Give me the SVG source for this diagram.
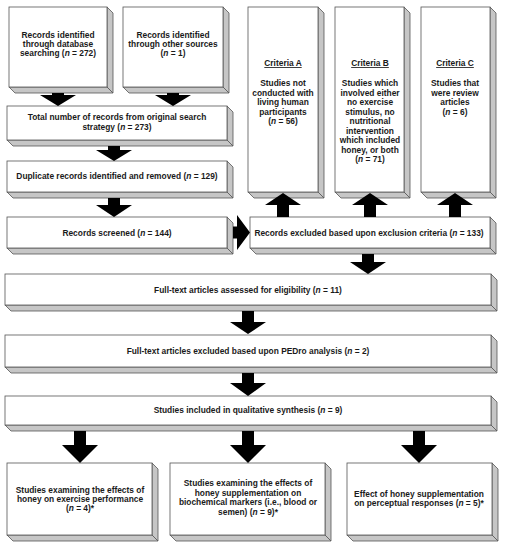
<svg xmlns="http://www.w3.org/2000/svg" width="507" height="550" viewBox="0 0 507 550">
<defs>
<style>
.face{fill:#fff;stroke:#555;stroke-width:0.8}
.bev{fill:#c6c6c6;stroke:#555;stroke-width:0.8;stroke-linejoin:round}
.t{font-family:"Liberation Sans",Arial,sans-serif;font-weight:bold;font-size:8.4px;fill:#1a1a1a;text-anchor:middle}
.i{font-style:italic}
.u{text-decoration:underline}
.arr{fill:#000}
</style>
</defs>
<rect width="507" height="550" fill="#fff"/>

<g id="n-db">
<polygon class="bev" points="107,7 113,13 113,93 107,87"/><polygon class="bev" points="9,87 107,87 113,93 15,93"/>
<rect class="face" x="9" y="7" width="98" height="80"/>
<text class="t" x="58" y="38">Records identified</text>
<text class="t" x="58" y="47">through database</text>
<text class="t" x="58" y="56">searching (<tspan class="i">n</tspan> = 272)</text>
</g>
<g id="n-other">
<polygon class="bev" points="223,7 229,13 229,93 223,87"/><polygon class="bev" points="123,87 223,87 229,93 129,93"/>
<rect class="face" x="123" y="7" width="100" height="80"/>
<text class="t" x="173" y="38">Records identified</text>
<text class="t" x="173" y="47">through other sources</text>
<text class="t" x="173" y="56">(<tspan class="i">n</tspan> = 1)</text>
</g>
<g id="n-critA">
<polygon class="bev" points="318,7 324,13 324,198 318,192"/><polygon class="bev" points="248,192 318,192 324,198 254,198"/>
<rect class="face" x="248" y="7" width="70" height="185"/>
<text class="t u" x="283" y="66">Criteria A</text>
<text class="t" x="283" y="86">Studies not</text>
<text class="t" x="283" y="95.5">conducted with</text>
<text class="t" x="283" y="105">living human</text>
<text class="t" x="283" y="114.5">participants</text>
<text class="t" x="283" y="124">(<tspan class="i">n</tspan> = 56)</text>
</g>
<g id="n-critB">
<polygon class="bev" points="404,7 410,13 410,198 404,192"/><polygon class="bev" points="335,192 404,192 410,198 341,198"/>
<rect class="face" x="335" y="7" width="69" height="185"/>
<text class="t u" x="370" y="66">Criteria B</text>
<text class="t" x="370" y="86">Studies which</text>
<text class="t" x="370" y="95.5">involved either</text>
<text class="t" x="370" y="105">no exercise</text>
<text class="t" x="370" y="114.5">stimulus, no</text>
<text class="t" x="370" y="124">nutritional</text>
<text class="t" x="370" y="133.5">intervention</text>
<text class="t" x="370" y="143">which included</text>
<text class="t" x="370" y="152.5">honey, or both</text>
<text class="t" x="370" y="162">(<tspan class="i">n</tspan> = 71)</text>
</g>
<g id="n-critC">
<polygon class="bev" points="490,7 496,13 496,198 490,192"/><polygon class="bev" points="421,192 490,192 496,198 427,198"/>
<rect class="face" x="421" y="7" width="69" height="185"/>
<text class="t u" x="455" y="66">Criteria C</text>
<text class="t" x="455" y="86">Studies that</text>
<text class="t" x="455" y="95.5">were review</text>
<text class="t" x="455" y="105">articles</text>
<text class="t" x="455" y="114.5">(<tspan class="i">n</tspan> = 6)</text>
</g>
<g id="n-total">
<polygon class="bev" points="227,106 233,112 233,146 227,140"/><polygon class="bev" points="7,140 227,140 233,146 13,146"/>
<rect class="face" x="7" y="106" width="220" height="34"/>
<text class="t" x="117" y="120">Total number of records from original search</text>
<text class="t" x="117" y="130">strategy (<tspan class="i">n</tspan> = 273)</text>
</g>
<g id="n-dup">
<polygon class="bev" points="227,161 233,167 233,198 227,192"/><polygon class="bev" points="7,192 227,192 233,198 13,198"/>
<rect class="face" x="7" y="161" width="220" height="31"/>
<text class="t" x="117" y="179">Duplicate records identified and removed (<tspan class="i">n</tspan> = 129)</text>
</g>
<g id="n-screened">
<polygon class="bev" points="227,217 233,223 233,254 227,248"/><polygon class="bev" points="7,248 227,248 233,254 13,254"/>
<rect class="face" x="7" y="217" width="220" height="31"/>
<text class="t" x="117" y="235.5">Records screened (<tspan class="i">n</tspan> = 144)</text>
</g>
<g id="n-excluded">
<polygon class="bev" points="490,217 496,223 496,254 490,248"/><polygon class="bev" points="250,248 490,248 496,254 256,254"/>
<rect class="face" x="250" y="217" width="240" height="31"/>
<text class="t" x="369" y="235.5">Records excluded based upon exclusion criteria (<tspan class="i">n</tspan> = 133)</text>
</g>
<g id="n-fulltext">
<polygon class="bev" points="491,274 497,280 497,311 491,305"/><polygon class="bev" points="5,305 491,305 497,311 11,311"/>
<rect class="face" x="5" y="274" width="486" height="31"/>
<text class="t" x="248" y="292.5">Full-text articles assessed for eligibility (<tspan class="i">n</tspan> = 11)</text>
</g>
<g id="n-pedro">
<polygon class="bev" points="491,335 497,341 497,373 491,367"/><polygon class="bev" points="5,367 491,367 497,373 11,373"/>
<rect class="face" x="5" y="335" width="486" height="32"/>
<text class="t" x="248" y="354">Full-text articles excluded based upon PEDro analysis (<tspan class="i">n</tspan> = 2)</text>
</g>
<g id="n-included">
<polygon class="bev" points="491,396 497,402 497,431 491,425"/><polygon class="bev" points="5,425 491,425 497,431 11,431"/>
<rect class="face" x="5" y="396" width="486" height="29"/>
<text class="t" x="248" y="413">Studies included in qualitative synthesis (<tspan class="i">n</tspan> = 9)</text>
</g>
<g id="n-perf">
<polygon class="bev" points="152,463 158,469 158,541 152,535"/><polygon class="bev" points="7,535 152,535 158,541 13,541"/>
<rect class="face" x="7" y="463" width="145" height="72"/>
<text class="t" x="80" y="493">Studies examining the effects of</text>
<text class="t" x="80" y="502">honey on exercise performance</text>
<text class="t" x="80" y="511">(<tspan class="i">n</tspan> = 4)*</text>
</g>
<g id="n-bio">
<polygon class="bev" points="325,463 331,469 331,541 325,535"/><polygon class="bev" points="170,535 325,535 331,541 176,541"/>
<rect class="face" x="170" y="463" width="155" height="72"/>
<text class="t" x="248" y="486">Studies examining the effects of</text>
<text class="t" x="248" y="495.5">honey supplementation on</text>
<text class="t" x="248" y="505">biochemical markers (i.e., blood or</text>
<text class="t" x="248" y="514.5">semen) (<tspan class="i">n</tspan> = 9)*</text>
</g>
<g id="n-percep">
<polygon class="bev" points="492,463 498,469 498,541 492,535"/><polygon class="bev" points="347,535 492,535 498,541 353,541"/>
<rect class="face" x="347" y="463" width="145" height="72"/>
<text class="t" x="419" y="497">Effect of honey supplementation</text>
<text class="t" x="419" y="506">on perceptual responses (<tspan class="i">n</tspan> = 5)*</text>
</g>

<g id="connectors">
<polygon class="arr" points="52,93 64,93 64,95 76,95 58,106 40,95 52,95"/>
<polygon class="arr" points="167,93 179,93 179,95 191,95 173,106 155,95 167,95"/>
<polygon class="arr" points="108,146 120,146 120,150 132,150 114,161 96,150 108,150"/>
<polygon class="arr" points="108,198 120,198 120,205 132,205 114,217 96,205 108,205"/>
<polygon class="arr" points="233,226.5 237,226.5 237,215 250,232.5 237,250 237,238.5 233,238.5"/>
<polygon class="arr" points="277,217 289,217 289,205 301,205 283,193 265,205 277,205"/>
<polygon class="arr" points="364,217 376,217 376,205 388,205 370,193 352,205 364,205"/>
<polygon class="arr" points="449,217 461,217 461,205 473,205 455,193 437,205 449,205"/>
<polygon class="arr" points="362,254 374,254 374,262 386,262 368,274 350,262 362,262"/>
<polygon class="arr" points="242,311 254,311 254,322 266,322 248,334 230,322 242,322"/>
<polygon class="arr" points="242,373 254,373 254,383 266,383 248,396 230,383 242,383"/>
<polygon class="arr" points="74,431 86,431 86,445 98,445 80,463 62,445 74,445"/>
<polygon class="arr" points="242,431 254,431 254,445 266,445 248,463 230,445 242,445"/>
<polygon class="arr" points="413,431 425,431 425,445 437,445 419,463 401,445 413,445"/>
</g>
</svg>
